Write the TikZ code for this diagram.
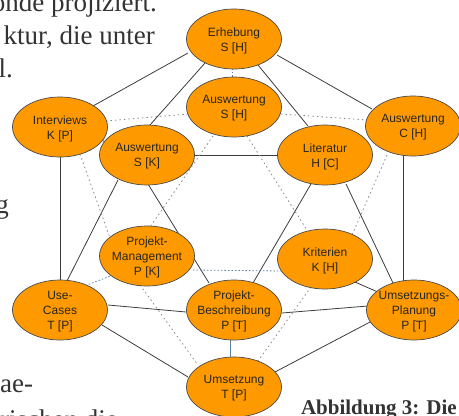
\documentclass[tikz,border=0pt]{standalone}
\usepackage{fontspec}
\setmainfont{Liberation Sans}
\newfontfamily\bodyserif{Liberation Serif}
\usetikzlibrary{shapes.geometric}
\pgfdeclarelayer{edges}
\pgfsetlayers{edges,main}

\definecolor{nodefill}{HTML}{FF9900}
\definecolor{rimcol}{HTML}{4A4A4A}
\definecolor{solidcol}{HTML}{3C3C3C}
\definecolor{hiddencol}{HTML}{8A8A8A}
\definecolor{bluehid}{HTML}{5A7FA8}
\definecolor{prosecol}{HTML}{333333}

\tikzset{
  vertex/.style={ellipse, draw=rimcol, line width=0.7pt, fill=nodefill,
    minimum width=95pt, minimum height=60pt, inner sep=0pt},
  vlabel/.style={align=center, font=\fontsize{12}{15}\selectfont,
    text=black!85, inner sep=0pt},
  front/.style={draw=solidcol, line width=0.8pt},
  back/.style={draw=hiddencol, line width=0.8pt, dash pattern=on 1.5pt off 3pt},
  backblue/.style={draw=bluehid, line width=0.8pt, dash pattern=on 1.5pt off 2pt},
  frontblue/.style={draw=bluehid, line width=0.8pt},
  prose/.style={font=\bodyserif\fontsize{27}{32}\selectfont, text=prosecol, inner sep=0pt},
  caption/.style={font=\bodyserif\bfseries\fontsize{21}{25}\selectfont, text=prosecol, inner sep=0pt},
}

% one vertex of the polyhedron: name, position, label lines
\newcommand\vtx[3]{%
  \node[vertex] (#1) at (#2) {};
  \node[vlabel] (#1-text) at ([yshift=-1.5pt]#1.center) {#3};}
% a point of a vertex, given by its offset from the centre
\newcommand\at[3]{([shift={(#2,#3)}]#1.center)}

\begin{document}
\begin{tikzpicture}[x=1pt, y=-1pt]
  \useasboundingbox (0,0) rectangle (459,416);
  \clip (0,0) rectangle (459,416);

  % running text around the figure
  \node[prose, anchor=base east] (p1) at (157,11) {onde projiziert.};
  \node[prose, anchor=base east] (p2) at (155,44) {ktur, die unter};
  \node[prose, anchor=base east] (p3) at (13,77) {l.};
  \node[prose, anchor=base east] (p4) at (9,213) {g};
  \node[prose, anchor=base west] (p5) at (0,392) {ae-};
  \node[prose, anchor=base west] (p6) at (0,428) {rischen die};
  \node[caption, anchor=base east] (cap) at (457,414) {Abbildung 3: Die};

  % outer hexagon
  \vtx{E}{234,39}{Erhebung\\S [H]}
  \vtx{CH}{413,126}{Auswertung\\C [H]}
  \vtx{UP}{414,310}{Umsetzungs-\\Planung\\P [T]}
  \vtx{U}{234,387}{Umsetzung\\T [P]}
  \vtx{UC}{60,310}{Use-\\Cases\\T [P]}
  \vtx{I}{60,127}{Interviews\\K [P]}
  % front triangle
  \vtx{SK}{147,155}{Auswertung\\S [K]}
  \vtx{L}{325,155}{Literatur\\H [C]}
  \vtx{PB}{234,310}{Projekt-\\Beschreibung\\P [T]}
  % back triangle
  \vtx{SH}{234,107}{Auswertung\\S [H]}
  \vtx{PM}{147,256}{Projekt-\\Management\\P [K]}
  \vtx{K}{325,259}{Kriterien\\K [H]}

  \begin{pgfonlayer}{edges}
    % visible edges
    \draw[front] \at{E}{-46}{14} -- \at{I}{33}{-21};
    \draw[front] \at{E}{43}{16} -- \at{CH}{-41}{-17};
    \draw[front] \at{E}{-29}{24} -- \at{SK}{3}{-30};
    \draw[front] \at{E}{24}{26} -- \at{L}{-17}{-29};
    \draw[front] \at{CH}{-10}{28} -- \at{UP}{-11}{-28};
    \draw[front] \at{CH}{-43}{14} -- \at{L}{45}{-15};
    \draw[front] \at{UP}{-42}{11} -- \at{U}{41}{-15};
    \draw[front] \at{UP}{-21}{-27} -- \at{L}{21}{29};
    \draw[front] \at{UP}{-46}{-4} -- \at{PB}{48}{3};
    \draw[front] \at{UP}{-34}{-17} -- \at{K}{30}{23};
    \draw[front] \at{U}{-46}{-10} -- \at{UC}{42}{15};
    \draw[front] \at{UC}{0}{-29} -- \at{I}{0}{29};
    \draw[front] \at{UC}{7}{-29} -- \at{SK}{-29}{25};
    \draw[front] \at{UC}{48}{-5} -- \at{PB}{-48}{2};
    \draw[front] (I) -- (SK);
    \draw[front] (SK) -- (L);
    \draw[front] \at{SK}{1}{29} -- \at{PB}{-25}{-27};
    \draw[front] \at{L}{-14}{29} -- \at{PB}{19}{-27};
    \draw[frontblue] \at{PB}{-4}{29} -- \at{U}{-4}{-27};
    % hidden edges
    \draw[back] \at{I}{46}{-6} -- \at{SH}{-46}{7};
    \draw[back] \at{SH}{47}{7} -- \at{CH}{-45}{-6};
    \draw[back] \at{SH}{-21}{29} -- \at{PM}{3}{-29};
    \draw[back] \at{SH}{13}{29} -- \at{K}{-18}{-29};
    \draw[back] \at{I}{20}{27} -- \at{PM}{-37}{-18};
    \draw[back] \at{CH}{-26}{29} -- \at{K}{27}{-24};
    \draw[back] \at{PM}{-7}{29} -- \at{U}{-36}{-22};
    \draw[back] \at{K}{-14}{28} -- \at{U}{24}{-26};
    \draw[backblue] \at{E}{-2}{29} -- \at{SH}{-2}{-29};
    \draw[backblue] \at{PM}{46}{14} -- \at{K}{-44}{12};
    \draw[backblue] \at{PM}{-34}{19} -- \at{UC}{27}{-25};
  \end{pgfonlayer}
\end{tikzpicture}
\end{document}
